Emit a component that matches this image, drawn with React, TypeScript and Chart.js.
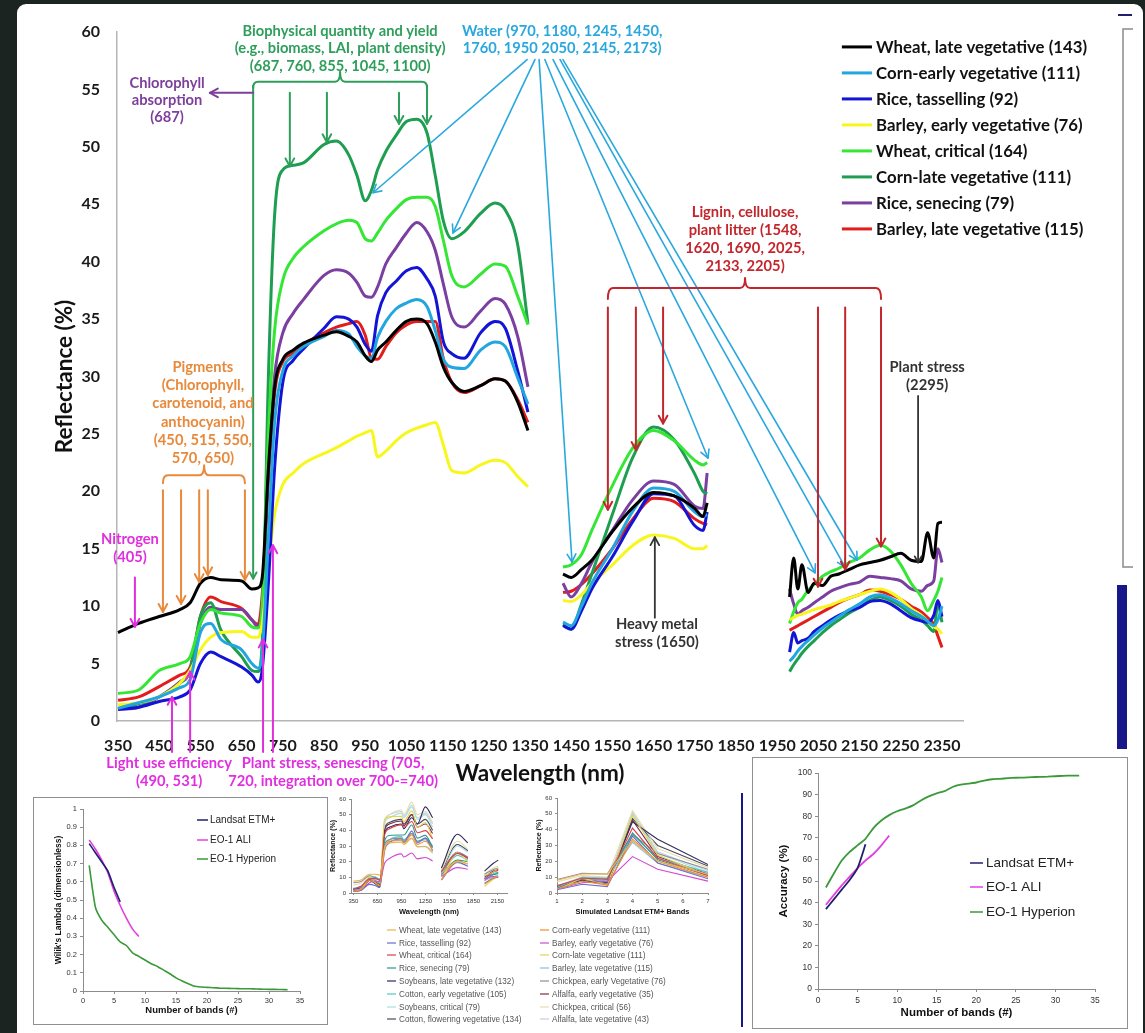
import React, { useEffect, useRef } from 'react';
import { Chart, registerables } from 'chart.js';

Chart.register(...registerables);

const SANS = 'Lato, "Open Sans", "DejaVu Sans", sans-serif';
const ARIAL = '"Liberation Sans", Arial, sans-serif';

// ---------------- main chart data ----------------
const WAVELENGTHS = [350, 400, 450, 500, 525, 550, 575, 600, 650, 675, 690, 700, 715, 730, 750, 775, 800, 850, 880, 910, 930, 950, 965, 980, 1000, 1025, 1050, 1075, 1100, 1120, 1140, 1160, 1190, 1230, 1265, 1290, 1320, 1345, 1390, 1430, 1450, 1475, 1500, 1550, 1600, 1650, 1700, 1750, 1770, 1780, 1880, 1980, 1990, 2000, 2010, 2025, 2040, 2060, 2080, 2100, 2125, 2150, 2175, 2200, 2225, 2250, 2275, 2300, 2315, 2330, 2340, 2350];
const MAIN_X_TICKS = [350, 450, 550, 650, 750, 850, 950, 1050, 1150, 1250, 1350, 1450, 1550, 1650, 1750, 1850, 1950, 2050, 2150, 2250, 2350];

const MAIN_LABELS = ['Wheat, late vegetative (143)', 'Corn-early vegetative (111)', 'Rice, tasselling (92)', 'Barley, early vegetative (76)', 'Wheat, critical (164)', 'Corn-late vegetative (111)', 'Rice, senecing (79)', 'Barley, late vegetative (115)'];
const MAIN_COLORS = ['#000000', '#22a6e0', '#1414d6', '#f7f71e', '#35e635', '#1e9e50', '#7a3fa0', '#e31c1c'];

const WHEAT_LATE_VEG = [7.7, 8.5, 9.1, 9.7, 10.3, 12.0, 12.5, 12.3, 12.2, 11.5, 11.6, 12.5, 22, 29, 31.5, 32.3, 32.9, 33.6, 33.9, 33.5, 33.0, 31.8, 31.3, 32.3, 33.0, 34.0, 34.8, 35.0, 34.6, 33.0, 30.8, 29.5, 28.7, 29.2, 29.8, 29.6, 27.8, 25.3, null, 12.8, 12.5, 13.2, 14.0, 16.5, 18.6, 19.9, 19.6, 18.5, 17.8, 19.0, null, 10.8, 14.2, 11.5, 13.6, 11.2, 12.0, 11.8, 12.6, 12.8, 13.2, 13.6, 13.8, 14.0, 14.3, 14.6, 14.0, 13.9, 16.4, 14.2, 17.2, 17.3];
const CORN_EARLY_VEG = [1.1, 1.6, 2.1, 2.9, 3.6, 7.7, 8.5, 7.1, 6.2, 5.0, 4.6, 6.0, 16, 26, 30.5, 31.8, 32.6, 33.5, 34.0, 33.7, 32.6, 31.8, 31.6, 33.4, 34.8, 35.9, 36.4, 36.7, 36.1, 34.0, 31.5, 30.8, 30.7, 32.3, 33.0, 32.6, 29.9, 27.6, null, 8.6, 8.3, 10.0, 12.0, 15.0, 18.3, 20.3, 20.0, 18.2, 17.8, 18.0, null, 5.2, 5.6, 6.1, 6.5, 7.0, 7.5, 8.1, 8.6, 9.1, 9.7, 10.2, 10.8, 11.0, 10.7, 10.2, 9.6, 9.1, 8.7, 8.3, 8.8, 10.0];
const RICE_TASSELLING = [1.0, 1.2, 1.7, 2.1, 2.7, 5.0, 6.0, 5.6, 4.7, 4.0, 3.4, 4.5, 12, 22, 29.5, 31.4, 32.4, 34.2, 35.2, 35.0, 34.3, 32.8, 32.2, 35.3, 37.3, 38.3, 39.2, 39.5, 38.5, 37.0, 33.0, 32.0, 31.6, 33.8, 34.8, 34.2, 30.5, 26.9, null, 8.3, 8.0, 9.6, 11.5, 14.3, 17.4, 19.8, 19.6, 17.0, 16.6, 18.2, null, 6.0, 7.7, 6.8, 7.0, 7.2, 7.8, 8.3, 8.8, 9.2, 9.6, 9.9, 10.4, 10.5, 10.2, 9.6, 9.0, 8.7, 8.6, 9.2, 10.5, 9.1];
const BARLEY_EARLY_VEG = [1.4, 1.6, 2.1, 3.3, 4.4, 6.2, 7.3, 7.7, 7.8, 7.3, 7.3, 8.5, 13.5, 18, 20.6, 21.6, 22.4, 23.3, 23.8, 24.4, 24.8, 25.1, 25.3, 23.0, 23.5, 24.4, 25.1, 25.5, 25.8, 26.0, 24.0, 21.8, 21.6, 22.3, 22.7, 22.5, 21.3, 20.4, null, 10.5, 10.4, 11.0, 12.0, 13.6, 15.3, 16.2, 15.9, 15.0, 15.0, 15.3, null, 8.8, 9.0, 9.2, 9.3, 9.5, 9.7, 9.9, 10.1, 10.4, 10.7, 11.0, 11.3, 11.5, 11.2, 10.6, 9.8, 9.2, 8.7, 8.2, 8.0, 7.6];
const WHEAT_CRITICAL = [2.4, 2.7, 4.4, 5.0, 5.6, 8.5, 9.7, 9.4, 9.1, 8.2, 8.1, 10, 25, 34, 38.4, 40.3, 41.3, 42.7, 43.3, 43.6, 43.4, 42.0, 41.8, 42.5, 43.6, 44.6, 45.4, 45.6, 45.6, 44.8, 41.8, 38.8, 37.8, 38.9, 39.8, 39.6, 37.0, 34.5, null, 13.4, 13.6, 14.5, 16.6, 20.5, 23.8, 25.3, 24.4, 22.7, 22.3, 22.5, null, 8.5, 9.5, 10.3, 10.6, 11.4, 11.9, 12.6, 13.0, 13.3, 13.8, 14.2, 14.9, 15.3, 14.8, 13.6, 12.0, 10.8, 9.6, 10.5, 11.3, 12.5];
const CORN_LATE_VEG = [1.1, 1.5, 2.1, 3.3, 4.4, 9.1, 10.3, 7.9, 5.6, 4.4, 4.3, 7, 30, 44, 48, 48.4, 48.6, 50.2, 50.5, 49.3, 47.5, 45.3, 46.2, 48.0, 49.6, 51.0, 52.2, 52.4, 51.2, 47.5, 43.5, 42.0, 42.6, 44.2, 45.1, 44.5, 41.5, 34.6, null, 8.4, 8.0, 10.2, 12.8, 18.0, 23.0, 25.6, 24.5, 21.5, 20.0, 19.8, null, 4.3, 4.9, 5.4, 5.9, 6.5, 7.0, 7.7, 8.3, 8.8, 9.4, 9.9, 10.5, 10.8, 10.5, 10.0, 9.3, 8.8, 8.3, 7.8, 10.2, 8.6];
const RICE_SENECING = [1.0, 1.2, 2.1, 3.4, 4.4, 8.5, 9.9, 9.7, 9.7, 8.8, 8.2, 10, 22, 30, 33.8, 35.5, 36.7, 38.8, 39.3, 39.0, 38.2, 37.0, 36.9, 37.8, 39.8, 41.2, 42.5, 43.4, 42.6, 41.0, 38.0, 35.2, 34.3, 35.7, 36.8, 36.3, 33.5, 29.1, null, 12.0, 10.8, 12.0, 13.8, 16.6, 19.3, 20.9, 20.6, 18.7, 18.5, 21.6, null, 11.5, 10.2, 9.3, 9.6, 9.9, 10.3, 10.8, 11.3, 11.6, 11.9, 12.1, 12.6, 12.5, 12.4, 12.2, 11.5, 11.3, 11.8, 12.2, 15.0, 13.8];
const BARLEY_LATE_VEG = [1.8, 2.1, 3.0, 4.0, 4.7, 9.1, 10.8, 10.4, 9.8, 8.8, 8.4, 11, 21, 28.5, 31.3, 32.0, 32.8, 33.8, 34.3, 34.6, 34.8, 33.6, 31.6, 31.5, 32.6, 33.8, 34.5, 34.8, 34.8, 34.8, 31.5, 29.5, 28.6, 29.2, 29.8, 29.6, 28.0, 26.0, null, 11.2, 11.3, 11.9, 12.8, 15.0, 17.6, 19.4, 19.1, 17.6, 17.2, 17.1, null, 7.9, 8.1, 8.3, 8.5, 8.8, 9.1, 9.5, 9.9, 10.3, 10.7, 11.0, 11.4, 11.3, 11.0, 10.6, 10.0, 9.5, 9.0, 8.4, 7.4, 6.4];
const MAIN_VALUES = [WHEAT_LATE_VEG, CORN_EARLY_VEG, RICE_TASSELLING, BARLEY_EARLY_VEG, WHEAT_CRITICAL, CORN_LATE_VEG, RICE_SENECING, BARLEY_LATE_VEG];

// ---------------- annotations (in wavelength / reflectance units) ----------------
const BIO_TEXT = ['Biophysical quantity and yield', '(e.g., biomass, LAI, plant density)', '(687, 760, 855, 1045, 1100)'];
const BIO_TEXT_AT = [889, 60.1];
const BIO_BRACKET = [678, 889, 1100, 55.66];
const BIO_LEFT_LEG_TO = 12.4;
const BIO_ARROW_WL = [767, 857, 1032];
const BIO_ARROW_TO = [48.3, 50.4, 52.0];
const BIO_ARROW_FROM = 54.7;
const BIO_RIGHT_LEG_TO = 52.0;

const CHL_TEXT = ['Chlorophyll', 'absorption', '(687)'];
const CHL_TEXT_AT = [469, 55.5];
const CHL_ARROW = [678, 573, 54.7];

const WATER_TEXT = ['Water (970, 1180, 1245, 1450,', '1760, 1950 2050, 2145, 2173)'];
const WATER_TEXT_AT = [1428, 60.1];
const WATER_FROM_WL = [1343, 1362, 1372, 1386, 1406, 1423, 1430];
const WATER_FROM_REFL = 57.6;
const WATER_TO_WL = [969, 1163, 1452, 1782, 2042, 2115, 2144];
const WATER_TO_REFL = [46.0, 42.5, 13.85, 22.9, 12.9, 13.4, 14.0];

const PIG_TEXT = ['Pigments', '(Chlorophyll,', 'carotenoid, and', 'anthocyanin)', '(450, 515, 550,', '570, 650)'];
const PIG_TEXT_AT = [556, 30.8];
const PIG_BRACKET = [459, 559, 658, 21.4];
const PIG_ARROW_WL = [459, 503, 547, 568, 658];
const PIG_ARROW_TO = [9.5, 10.2, 12.1, 12.7, 12.3];
const PIG_ARROW_FROM = 20.1;

const N_TEXT = ['Nitrogen', '(405)'];
const N_TEXT_AT = [379, 15.8];
const N_ARROW = [391, 12.5, 8.2];

const LUE_TEXT = ['Light use efficiency', '(490, 531)'];
const LUE_TEXT_AT = [474, -3.66];
const LUE_ARROW_WL = [481, 525];
const LUE_ARROW_TO = [2.1, 4.3];

const PS_TEXT = ['Plant stress, senescing (705,', '720, integration over 700-=740)'];
const PS_TEXT_AT = [872, -3.66];
const PS_ARROW_WL = [702, 726];
const PS_ARROW_TO = [7.1, 15.3];
const BOTTOM_ARROW_FROM = -2.7;

const LIG_TEXT = ['Lignin, cellulose,', 'plant litter (1548,', '1620, 1690, 2025,', '2133, 2205)'];
const LIG_TEXT_AT = [1872, 44.3];
const LIG_BRACKET = [1539, 1872, 2202, 37.7];
const LIG_ARROW_WL = [1539, 1607, 1673, 2049, 2115, 2202];
const LIG_ARROW_TO = [18.4, 23.6, 25.9, 11.7, 13.2, 15.2];
const LIG_ARROW_FROM = 36.0;

const HM_TEXT = ['Heavy metal', 'stress (1650)'];
const HM_TEXT_AT = [1658, 8.4];
const HM_ARROW = [1653, 9.0, 16.0];

const PS2_TEXT = ['Plant stress', '(2295)'];
const PS2_TEXT_AT = [2314, 30.8];
const PS2_ARROW = [2292, 28.3, 13.8];

const LEGEND_AT = [2107, 2180, 2190, 58.7];

// ---------------- inset: Wilk's lambda ----------------
const WILKS_LANDSAT = [0.81, 0.76, 0.71, 0.66, 0.57, 0.49];
const WILKS_ALI = [0.83, 0.78, 0.72, 0.65, 0.55, 0.47, 0.40, 0.34, 0.30];
const WILKS_HYPERION = [0.69, 0.46, 0.39, 0.35, 0.31, 0.27, 0.25, 0.21, 0.19, 0.17, 0.15, 0.135, 0.115, 0.095, 0.072, 0.055, 0.04, 0.026, 0.022, 0.02, 0.018, 0.016, 0.015, 0.014, 0.013, 0.012, 0.012, 0.011, 0.01, 0.009, 0.009, 0.008, 0.007];

// ---------------- inset: accuracy ----------------
const ACC_LANDSAT = [37, 41.5, 46, 50.5, 56, 67];
const ACC_ALI = [39, 43.5, 48, 52, 56, 59.5, 62.5, 66.5, 71];
const ACC_HYPERION = [47, 53.5, 59.5, 63.5, 66.5, 69.5, 74.5, 78, 80.5, 82.3, 83.5, 85, 87.3, 89.2, 90.6, 91.6, 93.5, 94.6, 95.1, 95.6, 96.5, 97.1, 97.3, 97.6, 97.8, 97.9, 98.1, 98.2, 98.3, 98.5, 98.7, 98.8, 98.8];
const SENSOR_LABELS = ['Landsat ETM+', 'EO-1 ALI', 'EO-1 Hyperion'];
const SENSOR_COLORS = ['#1f1f6e', '#e040e0', '#3a9a3a'];

// ---------------- inset: 16 crop spectra ----------------
const CROP_LABELS = ['Wheat, late vegetative (143)', 'Corn-early vegetative (111)', 'Rice, tasselling (92)', 'Barley, early vegetative (76)', 'Wheat, critical (164)', 'Corn-late vegetative (111)', 'Rice, senecing (79)', 'Barley, late vegetative (115)', 'Soybeans, late vegetative (132)', 'Chickpea, early Vegetative (76)', 'Cotton, early vegetative (105)', 'Alfalfa, early vegetative (35)', 'Soybeans, critical (79)', 'Chickpea, critical (56)', 'Cotton, flowering vegetative (134)', 'Alfalfa, late vegetative (43)'];
const CROP_COLORS = ['#e9b44c', '#f28e2b', '#6b6bd0', '#d04ad0', '#d8404c', '#e6d44e', '#2a9a8c', '#8fbbe2', '#2b2b5e', '#8c8c9c', '#4cc8c8', '#7c2c4c', '#a8e0e0', '#e8dca8', '#4a4a5c', '#c8cce8'];
const SMALL_WL = [350, 450, 550, 620, 680, 740, 800, 950, 980, 1080, 1150, 1250, 1340, 1395, 1450, 1650, 1780, 1880, 1990, 2100, 2160];
const SMALL_X_TICKS = [350, 650, 950, 1250, 1550, 1850, 2150];
const S_WHEAT_LATE = [7.5, 8.5, 12, 12, 11.5, 29, 32, 32.5, 31, 35, 29.5, 29.5, 25.5, null, 12.5, 20, 18.5, null, 11, 13.5, 16];
const S_CORN_EARLY = [1.2, 2.2, 8, 6.5, 4.8, 28, 33, 34, 32, 37, 31, 33, 27.5, null, 8.5, 20.5, 18.5, null, 5.5, 9.5, 10.5];
const S_RICE_TASS = [1, 1.8, 5.5, 4.8, 3.5, 27, 32, 34.5, 32.5, 39.5, 32, 35, 27, null, 8.2, 19.8, 17, null, 6.2, 9.5, 10];
const S_BARLEY_EARLY = [1.5, 2.2, 6.5, 7.7, 7.3, 19, 22, 25, 23, 25.5, 21.8, 22.7, 20.5, null, 10.5, 16.2, 15.2, null, 9, 10.5, 10];
const S_WHEAT_CRIT = [2.5, 4.5, 9, 9.2, 8.2, 37, 41, 43.5, 42, 45.6, 38.5, 39.8, 34.5, null, 13.5, 25.3, 22.5, null, 9, 13.5, 14.5];
const S_CORN_LATE = [1.2, 2.2, 10, 7, 4.5, 47, 48.6, 49, 45.5, 52.4, 42, 45, 34.6, null, 8.4, 25.6, 20, null, 4.3, 8.8, 10.5];
const S_RICE_SEN = [1, 2.1, 8.5, 9.7, 8.3, 33, 36.7, 37, 37, 43.4, 35, 36.8, 29, null, 12, 21, 20, null, 11, 11.6, 12.5];
const S_BARLEY_LATE = [1.8, 3, 9.5, 10.4, 8.5, 30, 32.8, 33.5, 32, 34.8, 29.5, 29.8, 26, null, 11.2, 19.4, 17.2, null, 7.9, 10.3, 11.3];
const S_SOY_LATE = [2, 3, 8, 6, 4, 38, 42, 44, 41, 48, 44, 55, 48, null, 16, 37.5, 32, null, 14, 19, 21];
const S_CHICK_EARLY = [6.5, 7.5, 11, 10, 9, 31, 34, 35, 33, 38, 33, 35, 30, null, 14, 26, 23, null, 12, 15, 16];
const S_COTTON_EARLY = [3, 4, 9, 8, 6.5, 30, 34, 36, 34, 38, 33, 34, 29, null, 12, 24, 21, null, 9, 12, 13];
const S_ALFALFA_EARLY = [2.5, 3.5, 9, 7.5, 5.5, 40, 44, 46, 43, 50, 42, 44, 38, null, 11, 26, 22, null, 8, 12, 13];
const S_SOY_CRIT = [2, 3, 8, 6.5, 4.5, 44, 48, 51, 48, 55, 47, 50, 42, null, 12, 30, 26, null, 9, 13, 14];
const S_CHICK_CRIT = [5, 6.5, 11, 10, 8.5, 45, 50, 53, 50, 58, 50, 52, 45, null, 15, 33, 28, null, 12, 16, 17];
const S_COTTON_FLOW = [2.5, 3.5, 9, 7.5, 5, 41, 45, 47, 44, 50, 44, 47, 40, null, 13, 31, 27, null, 10, 14, 15];
const S_ALFALFA_LATE = [3, 4.5, 10, 8.5, 6, 46, 50, 52, 49, 56, 48, 51, 44, null, 13, 31, 27, null, 10, 14, 15];
const SMALL_VALUES = [S_WHEAT_LATE, S_CORN_EARLY, S_RICE_TASS, S_BARLEY_EARLY, S_WHEAT_CRIT, S_CORN_LATE, S_RICE_SEN, S_BARLEY_LATE, S_SOY_LATE, S_CHICK_EARLY, S_COTTON_EARLY, S_ALFALFA_EARLY, S_SOY_CRIT, S_CHICK_CRIT, S_COTTON_FLOW, S_ALFALFA_LATE];

// ---------------- inset: simulated ETM+ bands ----------------
const ETM_BANDS = [1, 2, 3, 4, 5, 7];
const B_WHEAT_LATE = [8, 12, 12, 33, 20, 12];
const B_CORN_EARLY = [2.5, 7.5, 5, 34, 20, 10];
const B_RICE_TASS = [2, 5.5, 4, 36, 19, 9];
const B_BARLEY_EARLY = [2.5, 6.5, 7.5, 23, 15, 7.5];
const B_WHEAT_CRIT = [4.5, 9.5, 8.5, 41, 22, 11];
const B_CORN_LATE = [2, 9.5, 5, 49, 24, 11];
const B_RICE_SEN = [3, 9, 9, 38, 21, 11];
const B_BARLEY_LATE = [3.5, 10, 9.5, 32, 19, 10];
const B_SOY_LATE = [4, 8, 5.5, 45, 34, 18];
const B_CHICK_EARLY = [8.5, 12.5, 12, 37, 25, 15];
const B_COTTON_EARLY = [4.5, 9, 7.5, 37, 22, 13];
const B_ALFALFA_EARLY = [3.5, 9, 6.5, 46, 23, 12];
const B_SOY_CRIT = [3, 8, 5.5, 50, 25, 13];
const B_CHICK_CRIT = [7, 11, 10, 52, 28, 16];
const B_COTTON_FLOW = [3.5, 9, 6.5, 47, 30, 17];
const B_ALFALFA_LATE = [4.5, 10, 7.5, 51, 26, 14];
const BAND_VALUES = [B_WHEAT_LATE, B_CORN_EARLY, B_RICE_TASS, B_BARLEY_EARLY, B_WHEAT_CRIT, B_CORN_LATE, B_RICE_SEN, B_BARLEY_LATE, B_SOY_LATE, B_CHICK_EARLY, B_COTTON_EARLY, B_ALFALFA_EARLY, B_SOY_CRIT, B_CHICK_CRIT, B_COTTON_FLOW, B_ALFALFA_LATE];

// ---------------- helpers ----------------
const pts = (xs: number[], ys: (number | null)[]) => xs.map((x, i) => ({ x, y: ys[i] }));
const seq = (n: number) => Array.from({ length: n }, (_, i) => i + 1);

function arrow(ctx: any, x1: number, y1: number, x2: number, y2: number, color: string, lw = 1.8, head = 8) {
  ctx.strokeStyle = color;
  ctx.lineWidth = lw;
  ctx.beginPath();
  ctx.moveTo(x1, y1);
  ctx.lineTo(x2, y2);
  ctx.stroke();
  const a = Math.atan2(y2 - y1, x2 - x1);
  ctx.beginPath();
  ctx.moveTo(x2 - head * Math.cos(a - 0.5), y2 - head * Math.sin(a - 0.5));
  ctx.lineTo(x2, y2);
  ctx.lineTo(x2 - head * Math.cos(a + 0.5), y2 - head * Math.sin(a + 0.5));
  ctx.stroke();
}

function texts(ctx: any, lines: string[], x: number, y: number, gap: number, color: string, font: string) {
  ctx.fillStyle = color;
  ctx.font = font;
  ctx.textAlign = 'center';
  ctx.textBaseline = 'middle';
  lines.forEach((t, i) => ctx.fillText(t, x, y + i * gap));
}

function bracket(ctx: any, xl: number, xc: number, xr: number, y: number, color: string, lw: number, leg: number) {
  ctx.strokeStyle = color;
  ctx.lineWidth = lw;
  ctx.beginPath();
  ctx.moveTo(xl, y + leg);
  ctx.quadraticCurveTo(xl, y, xl + 5, y);
  ctx.lineTo(xc - 5, y);
  ctx.quadraticCurveTo(xc, y, xc, y - 10);
  ctx.quadraticCurveTo(xc, y, xc + 5, y);
  ctx.lineTo(xr - 5, y);
  ctx.quadraticCurveTo(xr, y, xr, y + leg);
  ctx.stroke();
}

const mainDecor = {
  id: 'mainDecor',
  beforeDraw(chart: any) {
    const ctx = chart.ctx;
    ctx.save();
    ctx.fillStyle = '#1b2421';
    ctx.fillRect(0, 0, chart.width, chart.height);
    ctx.fillStyle = '#ffffff';
    ctx.beginPath();
    ctx.roundRect(17, 4, 1126, 1080, 9);
    ctx.fill();
    ctx.strokeStyle = '#8a8a8a';
    ctx.lineWidth = 1.5;
    ctx.beginPath();
    ctx.moveTo(1133, 29);
    ctx.lineTo(1123, 29);
    ctx.lineTo(1123, 567);
    ctx.lineTo(1133, 567);
    ctx.stroke();
    ctx.strokeStyle = '#1f1f6e';
    ctx.lineWidth = 2;
    ctx.beginPath();
    ctx.moveTo(1118, 15);
    ctx.lineTo(1132, 15);
    ctx.stroke();
    ctx.fillStyle = '#17178a';
    ctx.fillRect(1117, 585, 10, 164);
    ctx.fillRect(741, 793, 2, 234);
    ctx.restore();
  },
  afterDraw(chart: any) {
    const ctx = chart.ctx;
    const xs = chart.scales.x;
    const ys = chart.scales.y;
    const X = (w: number) => xs.getPixelForValue(w);
    const Y = (v: number) => ys.getPixelForValue(v);
    const f = (s: number) => `bold ${s}px ${SANS}`;
    const AF = f(14.7);
    ctx.save();
    ctx.lineCap = 'round';
    ctx.lineJoin = 'round';

    const GREEN = '#2e9e5b';
    texts(ctx, BIO_TEXT, X(BIO_TEXT_AT[0]), Y(BIO_TEXT_AT[1]), 17.5, GREEN, AF);
    const by = Y(BIO_BRACKET[3]);
    bracket(ctx, X(BIO_BRACKET[0]), X(BIO_BRACKET[1]), X(BIO_BRACKET[2]), by, GREEN, 2, 6);
    arrow(ctx, X(BIO_BRACKET[0]), by + 4, X(BIO_BRACKET[0]), Y(BIO_LEFT_LEG_TO), GREEN, 2, 7);
    arrow(ctx, X(BIO_BRACKET[2]), by + 4, X(BIO_BRACKET[2]), Y(BIO_RIGHT_LEG_TO), GREEN, 2, 9);
    BIO_ARROW_WL.forEach((w, i) => arrow(ctx, X(w), Y(BIO_ARROW_FROM), X(w), Y(BIO_ARROW_TO[i]), GREEN, 2, 9));

    const PURPLE = '#7d3f9c';
    arrow(ctx, X(CHL_ARROW[0]), Y(CHL_ARROW[2]), X(CHL_ARROW[1]), Y(CHL_ARROW[2]), PURPLE, 2, 9);
    texts(ctx, CHL_TEXT, X(CHL_TEXT_AT[0]), Y(CHL_TEXT_AT[1]), 17, PURPLE, AF);

    const WATER = '#2aa8dd';
    texts(ctx, WATER_TEXT, X(WATER_TEXT_AT[0]), Y(WATER_TEXT_AT[1]), 17.5, WATER, AF);
    WATER_TO_WL.forEach((w, i) => arrow(ctx, X(WATER_FROM_WL[i]), Y(WATER_FROM_REFL), X(w), Y(WATER_TO_REFL[i]), WATER, 1.6, 9));

    const ORANGE = '#e8893b';
    texts(ctx, PIG_TEXT, X(PIG_TEXT_AT[0]), Y(PIG_TEXT_AT[1]), 18.2, ORANGE, AF);
    bracket(ctx, X(PIG_BRACKET[0]), X(PIG_BRACKET[1]), X(PIG_BRACKET[2]), Y(PIG_BRACKET[3]), ORANGE, 2, 8);
    PIG_ARROW_WL.forEach((w, i) => arrow(ctx, X(w), Y(PIG_ARROW_FROM), X(w), Y(PIG_ARROW_TO[i]), ORANGE, 2, 9));

    const MAG = '#e02ee0';
    texts(ctx, N_TEXT, X(N_TEXT_AT[0]), Y(N_TEXT_AT[1]), 18, MAG, AF);
    arrow(ctx, X(N_ARROW[0]), Y(N_ARROW[1]), X(N_ARROW[0]), Y(N_ARROW[2]), MAG, 2, 9);
    texts(ctx, LUE_TEXT, X(LUE_TEXT_AT[0]), Y(LUE_TEXT_AT[1]), 18, MAG, AF);
    LUE_ARROW_WL.forEach((w, i) => arrow(ctx, X(w), Y(BOTTOM_ARROW_FROM), X(w), Y(LUE_ARROW_TO[i]), MAG, 2, 9));
    texts(ctx, PS_TEXT, X(PS_TEXT_AT[0]), Y(PS_TEXT_AT[1]), 18, MAG, AF);
    PS_ARROW_WL.forEach((w, i) => arrow(ctx, X(w), Y(BOTTOM_ARROW_FROM), X(w), Y(PS_ARROW_TO[i]), MAG, 2, 9));

    const RED = '#c3262c';
    texts(ctx, LIG_TEXT, X(LIG_TEXT_AT[0]), Y(LIG_TEXT_AT[1]), 18, RED, AF);
    bracket(ctx, X(LIG_BRACKET[0]), X(LIG_BRACKET[1]), X(LIG_BRACKET[2]), Y(LIG_BRACKET[3]), RED, 2, 11);
    LIG_ARROW_WL.forEach((w, i) => arrow(ctx, X(w), Y(LIG_ARROW_FROM), X(w), Y(LIG_ARROW_TO[i]), RED, 2, 9));

    const DARK = '#333333';
    arrow(ctx, X(HM_ARROW[0]), Y(HM_ARROW[1]), X(HM_ARROW[0]), Y(HM_ARROW[2]), DARK, 1.8, 9);
    texts(ctx, HM_TEXT, X(HM_TEXT_AT[0]), Y(HM_TEXT_AT[1]), 18, DARK, AF);
    texts(ctx, PS2_TEXT, X(PS2_TEXT_AT[0]), Y(PS2_TEXT_AT[1]), 18, DARK, AF);
    arrow(ctx, X(PS2_ARROW[0]), Y(PS2_ARROW[1]), X(PS2_ARROW[0]), Y(PS2_ARROW[2]), DARK, 1.8, 7);

    // Legend
    const lx1 = X(LEGEND_AT[0]);
    const lx2 = X(LEGEND_AT[1]);
    const tx = X(LEGEND_AT[2]);
    const ly0 = Y(LEGEND_AT[3]);
    ctx.font = f(16.8);
    ctx.textAlign = 'left';
    ctx.textBaseline = 'middle';
    chart.data.datasets.forEach((ds: any, i: number) => {
      const y = ly0 + i * 26;
      ctx.strokeStyle = ds.borderColor;
      ctx.lineWidth = 3;
      ctx.lineCap = 'butt';
      ctx.beginPath();
      ctx.moveTo(lx1, y);
      ctx.lineTo(lx2, y);
      ctx.stroke();
      ctx.fillStyle = '#111111';
      ctx.fillText(ds.label, tx, y + 1);
    });
    ctx.restore();
  },
};

function mainConfig(): any {
  return {
    type: 'line',
    data: {
      datasets: MAIN_LABELS.map((label, i) => ({
        label,
        data: pts(WAVELENGTHS, MAIN_VALUES[i]),
        borderColor: MAIN_COLORS[i],
        backgroundColor: MAIN_COLORS[i],
        borderWidth: 3,
        pointRadius: 0,
        cubicInterpolationMode: 'monotone',
        spanGaps: false,
        fill: false,
      })),
    },
    options: {
      responsive: false,
      animation: false,
      events: [],
      layout: { padding: { left: 0, top: 32, right: 182, bottom: 242 } },
      plugins: { legend: { display: false }, tooltip: { enabled: false } },
      scales: {
        x: {
          type: 'linear',
          min: 347.5,
          max: 2401,
          afterBuildTicks: (s: any) => { s.ticks = MAIN_X_TICKS.map((v) => ({ value: v })); },
          afterFit: (s: any) => { s.height = 70; },
          grid: { display: false, drawTicks: false },
          border: { display: true, color: '#b5b5b5', width: 1.5 },
          ticks: { autoSkip: false, maxRotation: 0, padding: 15, color: '#1a1a1a', font: { family: SANS, weight: 'bold', size: 16 }, callback: (v: any) => String(v) },
          title: { display: true, text: 'Wavelength (nm)', color: '#111111', font: { family: SANS, weight: 'bold', size: 22.5 }, padding: { top: 0, bottom: 4 } },
        },
        y: {
          min: 0,
          max: 60,
          afterFit: (s: any) => { s.width = 117; },
          grid: { display: false, drawTicks: false },
          border: { display: true, color: '#b5b5b5', width: 1.5 },
          ticks: { stepSize: 5, padding: 17, color: '#1a1a1a', font: { family: SANS, weight: 'bold', size: 16 } },
          title: { display: true, text: 'Reflectance (%)', color: '#111111', font: { family: SANS, weight: 'bold', size: 22.5 }, padding: { top: 51, bottom: 0 } },
        },
      },
    },
    plugins: [mainDecor],
  };
}

function insetFrame(border: boolean) {
  return {
    id: 'insetFrame',
    beforeDraw(chart: any) {
      if (!border) return;
      const ctx = chart.ctx;
      ctx.save();
      ctx.fillStyle = '#ffffff';
      ctx.fillRect(0, 0, chart.width, chart.height);
      ctx.strokeStyle = '#909090';
      ctx.lineWidth = 1;
      ctx.strokeRect(0.5, 0.5, chart.width - 1, chart.height - 1);
      ctx.restore();
    },
  };
}

function legendPlugin(x1: number, x2: number, tx: number, rows: number[], cols: number[], font: string, color: string, lw: number) {
  return {
    id: 'insetLegend',
    afterDraw(chart: any) {
      const ctx = chart.ctx;
      ctx.save();
      ctx.font = font;
      ctx.textAlign = 'left';
      ctx.textBaseline = 'middle';
      const perCol = rows.length;
      chart.data.datasets.forEach((ds: any, i: number) => {
        const col = cols.length > 1 ? i % cols.length : 0;
        const row = cols.length > 1 ? Math.floor(i / cols.length) : i;
        if (row >= perCol) return;
        const off = cols[col];
        const y = rows[row];
        ctx.strokeStyle = ds.borderColor;
        ctx.lineWidth = lw;
        ctx.beginPath();
        ctx.moveTo(x1 + off, y);
        ctx.lineTo(x2 + off, y);
        ctx.stroke();
        ctx.fillStyle = color;
        ctx.fillText(ds.label, tx + off, y + 0.5);
      });
      ctx.restore();
    },
  };
}

function smallAxis(o: any): any {
  return {
    type: 'linear',
    min: o.min,
    max: o.max,
    afterFit: o.fit,
    afterBuildTicks: o.ticksList ? (s: any) => { s.ticks = o.ticksList.map((v: number) => ({ value: v })); } : undefined,
    grid: { display: true, drawOnChartArea: false, drawTicks: true, tickLength: o.tl, color: '#8c8c8c' },
    border: { display: true, color: '#8c8c8c', width: 1 },
    ticks: { autoSkip: false, maxRotation: 0, stepSize: o.step, padding: o.pad, color: '#333333', font: { family: ARIAL, size: o.tickSize }, callback: o.cb },
    title: { display: true, text: o.title, color: '#111111', font: { family: ARIAL, weight: 'bold', size: o.titleSize }, padding: o.titlePad },
  };
}

function wilksConfig(): any {
  const data = [WILKS_LANDSAT, WILKS_ALI, WILKS_HYPERION];
  return {
    type: 'line',
    data: {
      datasets: SENSOR_LABELS.map((label, i) => ({
        label, data: pts(seq(data[i].length), data[i]), borderColor: SENSOR_COLORS[i], borderWidth: 1.6, pointRadius: 0, tension: 0.2,
      })),
    },
    options: {
      responsive: false, animation: false, events: [],
      layout: { padding: { left: 14, top: 12, right: 28, bottom: 4 } },
      plugins: { legend: { display: false }, tooltip: { enabled: false } },
      scales: {
        x: smallAxis({ min: 0, max: 35, step: 5, fit: (s: any) => { s.height = 30; }, tl: 3, pad: 2.5, tickSize: 7.5, title: 'Number of bands (#)', titleSize: 9.5, titlePad: { top: 0, bottom: 4.5 } }),
        y: smallAxis({ min: 0, max: 1, step: 0.1, fit: (s: any) => { s.width = 36; }, tl: 3, pad: 3, tickSize: 7.5, title: "Wilik's Lambda (dimensionless)", titleSize: 8.5, titlePad: { top: 7, bottom: 0 } }),
      },
    },
    plugins: [insetFrame(true), legendPlugin(164, 175, 177, [23, 43, 62], [0], `10px ${ARIAL}`, '#222222', 1.5)],
  };
}

function accConfig(): any {
  const data = [ACC_LANDSAT, ACC_ALI, ACC_HYPERION];
  return {
    type: 'line',
    data: {
      datasets: SENSOR_LABELS.map((label, i) => ({
        label, data: pts(seq(data[i].length), data[i]), borderColor: SENSOR_COLORS[i], borderWidth: 1.8, pointRadius: 0, tension: 0.2,
      })),
    },
    options: {
      responsive: false, animation: false, events: [],
      layout: { padding: { left: 10, top: 16, right: 33, bottom: 6 } },
      plugins: { legend: { display: false }, tooltip: { enabled: false } },
      scales: {
        x: smallAxis({ min: 0, max: 35, step: 5, fit: (s: any) => { s.height = 34; }, tl: 3, pad: 4, tickSize: 8.5, title: 'Number of bands (#)', titleSize: 11.5, titlePad: { top: 0, bottom: 3 } }),
        y: smallAxis({ min: 0, max: 100, step: 10, fit: (s: any) => { s.width = 56; }, tl: 3, pad: 3, tickSize: 8.5, title: 'Accuracy (%)', titleSize: 11.5, titlePad: { top: 15, bottom: 0 } }),
      },
    },
    plugins: [insetFrame(true), legendPlugin(218, 231, 234, [106, 130, 155], [0], `13.5px ${ARIAL}`, '#222222', 1.5)],
  };
}

function spectraConfig(): any {
  return {
    type: 'line',
    data: {
      datasets: CROP_LABELS.map((label, i) => ({
        label, data: pts(SMALL_WL, SMALL_VALUES[i]), borderColor: CROP_COLORS[i], borderWidth: 1.1, pointRadius: 0, cubicInterpolationMode: 'monotone', spanGaps: false,
      })),
    },
    options: {
      responsive: false, animation: false, events: [],
      layout: { padding: { left: 2, top: 14, right: 223, bottom: 111 } },
      plugins: { legend: { display: false }, tooltip: { enabled: false } },
      scales: {
        x: smallAxis({ min: 320, max: 2270, ticksList: SMALL_X_TICKS, cb: (v: any) => String(v), fit: (s: any) => { s.height = 26; }, tl: 2, pad: 3, tickSize: 6, title: 'Wavelength (nm)', titleSize: 7.5, titlePad: { top: 0, bottom: 3 } }),
        y: smallAxis({ min: 0, max: 60, step: 10, fit: (s: any) => { s.width = 29; }, tl: 2, pad: 3, tickSize: 6, title: 'Reflectance (%)', titleSize: 7, titlePad: { top: 6.5, bottom: 0 } }),
      },
    },
    plugins: [legendPlugin(67, 76, 79, [145, 158, 170, 183, 196, 209, 222, 234], [0, 153], `8.2px ${ARIAL}`, '#555555', 1.2)],
  };
}

function bandsConfig(): any {
  return {
    type: 'line',
    data: {
      datasets: CROP_LABELS.map((label, i) => ({
        label, data: pts(ETM_BANDS, BAND_VALUES[i]), borderColor: CROP_COLORS[i], borderWidth: 1.1, pointRadius: 0, tension: 0,
      })),
    },
    options: {
      responsive: false, animation: false, events: [],
      layout: { padding: { left: 2, top: 13, right: 17, bottom: 2 } },
      plugins: { legend: { display: false }, tooltip: { enabled: false } },
      scales: {
        x: smallAxis({ min: 1, max: 7, step: 1, fit: (s: any) => { s.height = 26; }, tl: 2, pad: 3, tickSize: 6, title: 'Simulated Landsat ETM+ Bands', titleSize: 7.5, titlePad: { top: 0, bottom: 3 } }),
        y: smallAxis({ min: 0, max: 60, step: 10, fit: (s: any) => { s.width = 30; }, tl: 2, pad: 3, tickSize: 6, title: 'Reflectance (%)', titleSize: 7, titlePad: { top: 7.5, bottom: 0 } }),
      },
    },
  };
}

function ChartCanvas({ left, top, width, height, make }: { left: number; top: number; width: number; height: number; make: () => any }) {
  const ref = useRef<HTMLCanvasElement | null>(null);
  useEffect(() => {
    if (!ref.current) return;
    const chart = new Chart(ref.current, make());
    return () => chart.destroy();
  }, []);
  return <canvas ref={ref} width={width} height={height} style={{ position: 'absolute', left, top, width, height }} />;
}

export default function App() {
  return (
    <div style={{ position: 'absolute', left: 0, top: 0, width: 1145, height: 1033, overflow: 'hidden', background: '#1b2421' }}>
      <ChartCanvas left={0} top={0} width={1145} height={1033} make={mainConfig} />
      <ChartCanvas left={33} top={797} width={295} height={228} make={wilksConfig} />
      <ChartCanvas left={320} top={785} width={410} height={245} make={spectraConfig} />
      <ChartCanvas left={525} top={785} width={200} height={136} make={bandsConfig} />
      <ChartCanvas left={752} top={757} width={376} height={272} make={accConfig} />
    </div>
  );
}
